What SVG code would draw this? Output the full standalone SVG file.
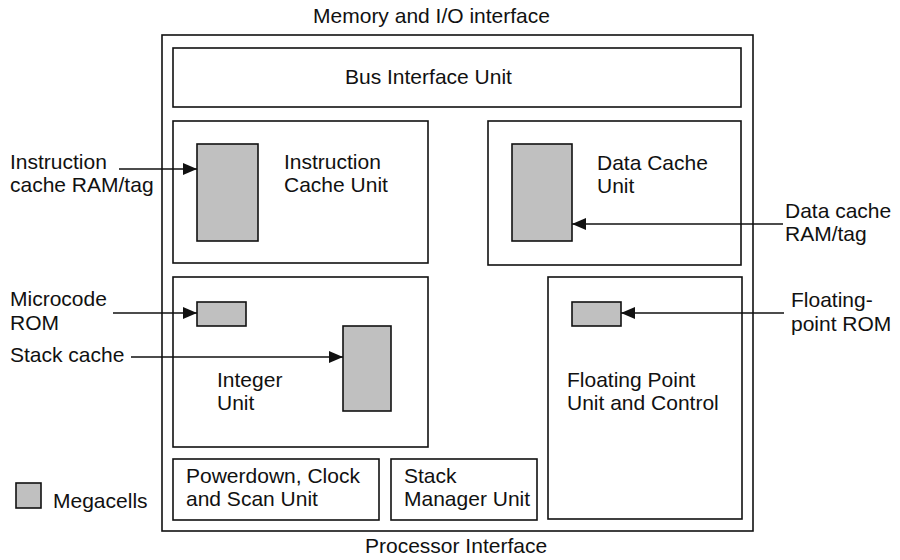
<svg xmlns="http://www.w3.org/2000/svg" width="900" height="560" viewBox="0 0 900 560">
<style>
text{font-family:"Liberation Sans",Arial,Helvetica,sans-serif;font-size:21px;fill:#111}
.box{fill:#fff;stroke:#111;stroke-width:1.6}
.cell{fill:#c0c0c0;stroke:#111;stroke-width:1.6}
.conn{fill:none;stroke:#111;stroke-width:1.6}
</style>
<defs>
<marker id="ah" markerUnits="userSpaceOnUse" markerWidth="15" markerHeight="12" refX="14" refY="6" orient="auto">
<path d="M0,0 L14,6 L0,12 Z" fill="#111"/>
</marker>
</defs>
<rect width="900" height="560" fill="#fff"/>
<text x="431.5" y="23" text-anchor="middle">Memory and I/O interface</text>
<g id="processor">
<rect class="box" x="162" y="35" width="591" height="496"/>
</g>
<g id="bus-interface-unit">
<rect class="box" x="173" y="48" width="568" height="59"/>
<text x="345" y="84">Bus Interface Unit</text>
</g>
<g id="instruction-cache-unit">
<rect class="box" x="173" y="121" width="255" height="142"/>
<rect class="cell" x="197" y="144" width="61" height="97"/>
<text x="284" y="169">Instruction</text>
<text x="284" y="192">Cache Unit</text>
</g>
<g id="data-cache-unit">
<rect class="box" x="488" y="121" width="253" height="144"/>
<rect class="cell" x="512" y="144" width="60" height="97"/>
<text x="597" y="170">Data Cache</text>
<text x="597" y="193">Unit</text>
</g>
<g id="integer-unit">
<rect class="box" x="173" y="277" width="255" height="170"/>
<rect class="cell" x="197" y="302" width="49" height="24"/>
<rect class="cell" x="343" y="326" width="48" height="85"/>
<text x="217" y="387">Integer</text>
<text x="217" y="410">Unit</text>
</g>
<g id="floating-point-unit">
<rect class="box" x="548" y="277" width="194" height="242"/>
<rect class="cell" x="572" y="302" width="49" height="24"/>
<text x="567" y="387">Floating Point</text>
<text x="567" y="410">Unit and Control</text>
</g>
<g id="powerdown-clock-scan-unit">
<rect class="box" x="173" y="459" width="206" height="61"/>
<text x="186" y="483">Powerdown, Clock</text>
<text x="186" y="506">and Scan Unit</text>
</g>
<g id="stack-manager-unit">
<rect class="box" x="391" y="459" width="146" height="61"/>
<text x="404" y="483">Stack</text>
<text x="404" y="506">Manager Unit</text>
</g>
<text x="365" y="553">Processor Interface</text>
<g id="legend">
<rect class="cell" x="16" y="483" width="25" height="25"/>
<text x="53" y="508">Megacells</text>
</g>
<g id="labels">
<text x="10" y="169">Instruction</text>
<text x="10" y="192">cache RAM/tag</text>
<text x="10" y="306">Microcode</text>
<text x="10" y="330">ROM</text>
<text x="10" y="362">Stack cache</text>
<text x="785" y="218">Data cache</text>
<text x="785" y="241">RAM/tag</text>
<text x="791" y="307">Floating-</text>
<text x="791" y="331">point ROM</text>
</g>
<g id="connectors">
<line class="conn" x1="119" y1="169" x2="197" y2="169" marker-end="url(#ah)"/>
<line class="conn" x1="113" y1="313" x2="197" y2="313" marker-end="url(#ah)"/>
<line class="conn" x1="131" y1="357" x2="343" y2="357" marker-end="url(#ah)"/>
<line class="conn" x1="783" y1="224" x2="572" y2="224" marker-end="url(#ah)"/>
<line class="conn" x1="784" y1="313" x2="621" y2="313" marker-end="url(#ah)"/>
</g>
</svg>
